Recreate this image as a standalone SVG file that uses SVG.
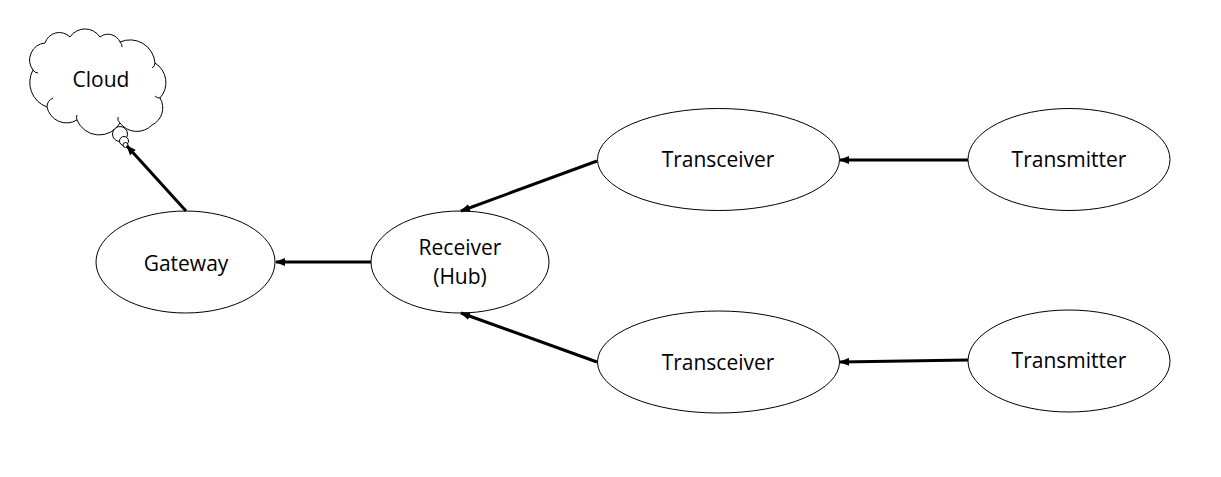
<svg xmlns="http://www.w3.org/2000/svg" width="1221" height="477" viewBox="0 0 1221 477">
<defs>
<style>
.node{fill:#fff;stroke:#000;stroke-width:1}
.hook{fill:none;stroke:#000;stroke-width:1}
.lbl{font-family:"Open Sans","Noto Sans",sans-serif;font-size:21px;fill:#000;text-anchor:middle}
.edge{stroke:#000;stroke-width:3;fill:none;marker-end:url(#ah)}
</style>
<marker id="ah" markerWidth="10" markerHeight="8" refX="9" refY="4" orient="auto" markerUnits="userSpaceOnUse">
<path d="M0,0 L10,4 L0,8 Z" fill="#000"/>
</marker>
</defs>
<rect width="1221" height="477" fill="#fff"/>
<g id="cloud">
<path class="node" d="M33,70 A17,17 0 0 1 45,43 A15,15 0 0 1 70,37 A18,18 0 0 1 100,37 A13,13 0 0 1 120,42 A25,25 0 0 1 155,63 A23,23 0 0 1 160,98 A19,19 0 0 1 152,125 A21,21 0 0 1 120,123 A24,24 0 0 1 77,120 A20,20 0 0 1 47,107 A26,26 0 0 1 33,70 Z"/>
<path class="hook" d="M47,107 A10,10 0 0 1 53,98 M33,70 A6,6 0 0 0 38,73 M120,42 A6,6 0 0 1 122,47 M155,63 A6,6 0 0 1 152,68 M160,98 A6,6 0 0 1 155,96 M120,123 A6,6 0 0 1 118,117 M77,120 A6,6 0 0 1 77,115"/>
<circle class="node" cx="120" cy="134" r="7.5"/>
<circle class="node" cx="124" cy="141" r="4.5"/>
<circle class="node" cx="125.5" cy="145" r="2.5"/>
<text class="lbl" x="101" y="87">Cloud</text>
</g>
<g id="gateway">
<ellipse class="node" cx="185.5" cy="262" rx="89.5" ry="51"/>
<text class="lbl" x="186" y="271">Gateway</text>
</g>
<g id="receiver">
<ellipse class="node" cx="460" cy="262" rx="89" ry="51"/>
<text class="lbl" x="460" y="255">Receiver</text>
<text class="lbl" x="460" y="284">(Hub)</text>
</g>
<g id="transceiver1">
<ellipse class="node" cx="718.5" cy="159.5" rx="121" ry="51"/>
<text class="lbl" x="718" y="167">Transceiver</text>
</g>
<g id="transceiver2">
<ellipse class="node" cx="718.5" cy="362" rx="121" ry="51"/>
<text class="lbl" x="718" y="370">Transceiver</text>
</g>
<g id="transmitter1">
<ellipse class="node" cx="1069" cy="159.5" rx="101" ry="51"/>
<text class="lbl" x="1069" y="167">Transmitter</text>
</g>
<g id="transmitter2">
<ellipse class="node" cx="1069" cy="361" rx="101" ry="51"/>
<text class="lbl" x="1069" y="368">Transmitter</text>
</g>
<g id="connectors">
<line class="edge" x1="968" y1="160" x2="840" y2="160"/>
<line class="edge" x1="968" y1="360" x2="840" y2="362"/>
<line class="edge" x1="597" y1="161" x2="461" y2="211"/>
<line class="edge" x1="597" y1="362" x2="461" y2="313"/>
<line class="edge" x1="371" y1="262" x2="276" y2="262"/>
<line class="edge" x1="186" y1="211" x2="127" y2="146"/>
</g>
</svg>
